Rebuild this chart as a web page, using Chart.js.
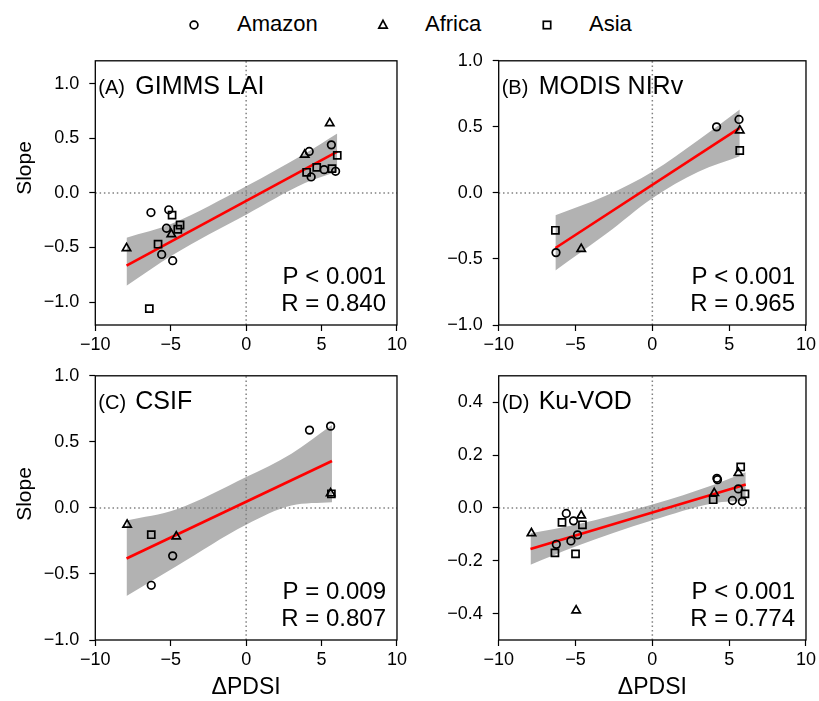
<!DOCTYPE html>
<html>
<head>
<meta charset="utf-8">
<script src="https://cdn.jsdelivr.net/npm/chart.js@4.4.0/dist/chart.umd.min.js"></script>
<style>
  body { margin: 0; background: #fff; }
  #fig { position: relative; width: 819px; height: 701px; font-family: "Liberation Sans", Arial, sans-serif; }
  #fig canvas { position: absolute; }
  .leg { position: absolute; top: 10px; font-size: 22px; line-height: 28px; color: #000; }
  .mk { position: absolute; top: 18px; }
</style>
</head>
<body>
<div id="fig">
  <svg class="mk" style="left:187px" width="14" height="14"><circle cx="7" cy="7" r="3.9" fill="none" stroke="#000" stroke-width="1.7"/></svg>
  <div class="leg" style="left:237px">Amazon</div>
  <svg class="mk" style="left:376px" width="14" height="14"><polygon points="7,2.4 11.2,10.2 2.8,10.2" fill="none" stroke="#000" stroke-width="1.7"/></svg>
  <div class="leg" style="left:425px">Africa</div>
  <svg class="mk" style="left:540px" width="14" height="14"><rect x="3.3" y="3.3" width="7.4" height="7.4" fill="none" stroke="#000" stroke-width="1.7"/></svg>
  <div class="leg" style="left:589px">Asia</div>

  <canvas id="cA" width="410" height="310" style="left:0;top:40px"></canvas>
  <canvas id="cB" width="419" height="310" style="left:400px;top:40px"></canvas>
  <canvas id="cC" width="410" height="346" style="left:0;top:355px"></canvas>
  <canvas id="cD" width="419" height="346" style="left:400px;top:355px"></canvas>
</div>
<script>
const regions = ['Amazon', 'Africa', 'Asia'];
const markers = ['circle', 'triangle', 'rect'];
const markerSize = [3.8, 4.8, 5.0];

// (A) GIMMS LAI  [ΔPDSI, slope]
const gimmsAmazon = [[-6.31,-0.18],[-5.13,-0.155],[-5.28,-0.324],[-5.60,-0.564],[-4.87,-0.621],
                     [4.18,0.38],[4.31,0.146],[5.65,0.44],[5.17,0.213],[5.93,0.198]];
const gimmsAfrica = [[-7.93,-0.506],[-4.96,-0.379],[3.88,0.35],[5.54,0.639]];
const gimmsAsia   = [[-4.91,-0.203],[-4.53,-0.333],[-4.38,-0.294],[-5.84,-0.47],[-6.42,-1.06],
                     [4.01,0.189],[4.68,0.234],[5.69,0.222],[6.04,0.344]];
const gimmsFit  = [[-7.93,-0.667],[6.04,0.379]];
// [ΔPDSI, lower, upper] of the 95% band
const gimmsBand = [[-7.93,-0.85,-0.41],[-4.9,-0.57,-0.28],[0,-0.20,0.06],[3.9,0.09,0.36],[6.04,0.197,0.545]];

// (B) MODIS NIRv
const nirvAmazon = [[4.18,0.50],[5.64,0.556],[-6.27,-0.452]];
const nirvAfrica = [[5.69,0.473],[-4.63,-0.424]];
const nirvAsia   = [[-6.31,-0.283],[5.69,0.321]];
const nirvFit  = [[-6.31,-0.417],[5.69,0.492]];
const nirvBand = [[-6.31,-0.588,-0.169],[-3,-0.31,-0.02],[0,-0.04,0.16],[3,0.16,0.40],[5.69,0.278,0.631]];

// (C) CSIF
const csifAmazon = [[4.20,0.589],[5.60,0.619],[-4.87,-0.363],[-6.29,-0.586]];
const csifAfrica = [[-7.89,-0.127],[-4.63,-0.216],[5.60,0.11]];
const csifAsia   = [[-6.29,-0.203],[5.65,0.107]];
const csifFit  = [[-7.93,-0.383],[5.69,0.355]];
const csifBand = [[-7.93,-0.667,-0.096],[-4.6,-0.44,-0.01],[0,-0.127,0.233],[3,0.018,0.41],[5.69,0.043,0.627]];

// (D) Ku-VOD
const vodAmazon = [[-5.60,-0.021],[-5.13,-0.049],[-6.25,-0.138],[-5.30,-0.125],[-4.87,-0.102],
                   [4.24,0.107],[4.20,0.112],[5.21,0.028],[5.86,0.024],[5.60,0.072]];
const vodAfrica = [[-7.87,-0.096],[-4.63,-0.029],[-4.96,-0.388],[5.60,0.132],[4.03,0.056]];
const vodAsia   = [[-5.88,-0.055],[-4.55,-0.064],[-6.34,-0.17],[-5.00,-0.174],
                   [3.96,0.031],[5.75,0.155],[6.03,0.053]];
const vodFit  = [[-7.93,-0.156],[6.08,0.089]];
const vodBand = [[-7.93,-0.215,-0.096],[-5,-0.146,-0.064],[0,-0.047,0.013],[4,0.018,0.088],[6.08,0.028,0.135]];

const xTicks = [-10, -5, 0, 5, 10];
const yTicks = [-1.0, -0.5, 0.0, 0.5, 1.0];
const yTicksVod = [-0.4, -0.2, 0.0, 0.2, 0.4];

const FONT = '"Liberation Sans", Arial, sans-serif';

function fmt(v, d) {
  if (Math.abs(v) < 1e-9) v = 0;
  return (v < 0 ? '\u2212' : '') + Math.abs(v).toFixed(d);
}

const panelText = {
  id: 'panelText',
  afterDraw(chart) {
    const o = chart.options.plugins.panelText;
    const a = chart.chartArea, ctx = chart.ctx;
    ctx.save();
    ctx.strokeStyle = '#000';
    ctx.lineWidth = 1.3;
    ctx.strokeRect(a.left, a.top, a.right - a.left, a.bottom - a.top);
    ctx.fillStyle = '#000';
    ctx.textBaseline = 'alphabetic';
    ctx.textAlign = 'left';
    ctx.font = '20px ' + FONT;
    ctx.fillText(o.tag, a.left + 3, a.top + 33);
    ctx.font = '25px ' + FONT;
    ctx.fillText(o.name, a.left + 40, a.top + 33);
    ctx.textAlign = 'right';
    ctx.font = '24px ' + FONT;
    ctx.fillText(o.p, a.right - 11, a.bottom - 41);
    ctx.fillText(o.r, a.right - 11, a.bottom - 14);
    if (o.ylabel) {
      // y axis label, rotated
      ctx.translate(25, o.ylabelY);
      ctx.rotate(-Math.PI / 2);
      ctx.textAlign = 'center';
      ctx.textBaseline = 'middle';
      ctx.font = '21px ' + FONT;
      ctx.fillText(o.ylabel, 0, 0);
    }
    ctx.restore();
  }
};

function panel(id, sets, fit, band, ylim, yt, text, geo) {
  const datasets = sets.map((s, i) => ({
    label: regions[i],
    data: s.map(p => ({x: p[0], y: p[1]})),
    pointStyle: markers[i],
    pointRadius: markerSize[i],
    borderColor: '#000',
    backgroundColor: 'rgba(0,0,0,0)',
    pointBorderWidth: 1.7,
    showLine: false,
    order: 0
  }));
  datasets.push({
    type: 'line', data: fit.map(p => ({x: p[0], y: p[1]})),
    borderColor: 'rgb(255,0,0)', borderWidth: 2.6, pointRadius: 0, fill: false, order: 1
  });
  const edge = {type: 'line', borderWidth: 0, borderColor: 'rgba(0,0,0,0)', pointRadius: 0,
                cubicInterpolationMode: 'monotone', order: 3};
  datasets.push(Object.assign({}, edge, {data: band.map(b => ({x: b[0], y: b[1]})), fill: false}));
  datasets.push(Object.assign({}, edge, {data: band.map(b => ({x: b[0], y: b[2]})), fill: '-1',
                backgroundColor: 'rgb(178,178,178)'}));
  const dotted = {type: 'line', borderColor: '#808080', borderWidth: 1.5, borderDash: [1.5, 2.8],
                  pointRadius: 0, fill: false, order: 2};
  datasets.push(Object.assign({}, dotted, {data: [{x: -10, y: 0}, {x: 10, y: 0}]}));
  datasets.push(Object.assign({}, dotted, {data: [{x: 0, y: ylim[0]}, {x: 0, y: ylim[1]}]}));

  new Chart(document.getElementById(id), {
    type: 'scatter',
    data: {datasets},
    plugins: [panelText],
    options: {
      responsive: false,
      animation: false,
      layout: {padding: {top: geo.top, right: geo.right, left: 0, bottom: 0}},
      plugins: {legend: {display: false}, tooltip: {enabled: false}, panelText: text},
      scales: {
        x: {
          type: 'linear', min: -10, max: 10,
          afterBuildTicks: s => { s.ticks = xTicks.map(v => ({value: v})); },
          afterFit: s => { s.height = geo.xh; },
          border: {display: false},
          grid: {drawOnChartArea: false, color: '#000', tickColor: '#000', tickLength: 6, tickWidth: 1.2},
          ticks: {color: '#000', font: {family: FONT, size: 18}, padding: 3, maxRotation: 0,
                  callback: v => fmt(v, 0)},
          title: {display: geo.xTitle, text: '\u0394PDSI', color: '#000',
                  font: {family: FONT, size: 23, lineHeight: 1.2}, padding: {top: 0, bottom: 0}}
        },
        y: {
          type: 'linear', min: ylim[0], max: ylim[1],
          afterBuildTicks: s => { s.ticks = yt.map(v => ({value: v})); },
          afterFit: s => { s.width = geo.yw; },
          border: {display: false},
          grid: {drawOnChartArea: false, color: '#000', tickColor: '#000', tickLength: 6, tickWidth: 1.2},
          ticks: {color: '#000', font: {family: FONT, size: 18}, padding: 10,
                  callback: v => fmt(v, 1)},
          title: {display: false}
        }
      }
    }
  });
}

panel('cA', [gimmsAmazon, gimmsAfrica, gimmsAsia], gimmsFit, gimmsBand, [-1.21, 1.21], yTicks,
      {tag: '(A)', name: 'GIMMS LAI', p: 'P < 0.001', r: 'R = 0.840', ylabel: 'Slope', ylabelY: 128},
      {top: 20, right: 5.3, yw: 95.3, xh: 25, xTitle: false});
panel('cB', [nirvAmazon, nirvAfrica, nirvAsia], nirvFit, nirvBand, [-1, 1], yTicks,
      {tag: '(B)', name: 'MODIS NIRv', p: 'P < 0.001', r: 'R = 0.965'},
      {top: 20, right: 12, yw: 98.7, xh: 25, xTitle: false});
panel('cC', [csifAmazon, csifAfrica, csifAsia], csifFit, csifBand, [-1, 1], yTicks,
      {tag: '(C)', name: 'CSIF', p: 'P = 0.009', r: 'R = 0.807', ylabel: 'Slope', ylabelY: 139},
      {top: 20, right: 5.3, yw: 95.3, xh: 61, xTitle: true});
panel('cD', [vodAmazon, vodAfrica, vodAsia], vodFit, vodBand, [-0.5, 0.5], yTicksVod,
      {tag: '(D)', name: 'Ku-VOD', p: 'P < 0.001', r: 'R = 0.774'},
      {top: 20, right: 12, yw: 98.7, xh: 61, xTitle: true});
</script>
</body>
</html>
